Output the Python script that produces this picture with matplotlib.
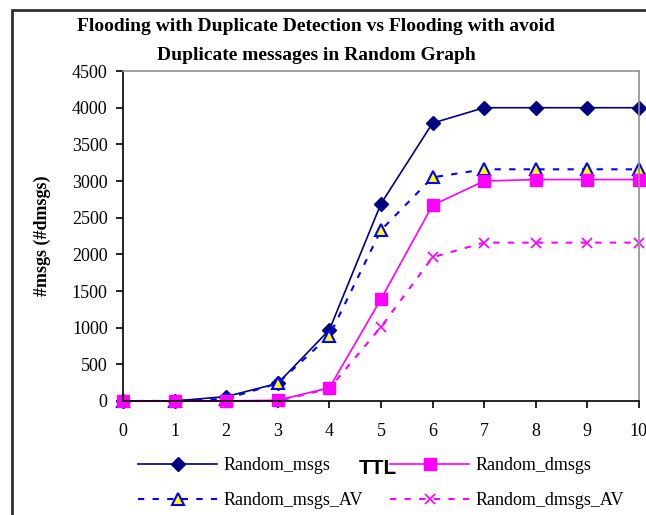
import matplotlib
matplotlib.use("Agg")
import matplotlib.pyplot as plt
from matplotlib.patches import Rectangle

ttl = [0, 1, 2, 3, 4, 5, 6, 7, 8, 9, 10]
random_msgs = [0, 0, 60, 240, 970, 2690, 3790, 4000, 4000, 4000, 4000]
random_dmsgs = [0, 0, 0, 10, 180, 1390, 2670, 3000, 3020, 3020, 3020]
random_msgs_av = [0, 0, 30, 240, 890, 2330, 3050, 3160, 3160, 3160, 3160]
random_dmsgs_av = [0, 0, 0, 0, 170, 1010, 1960, 2160, 2160, 2160, 2160]

y_ticks = [0, 500, 1000, 1500, 2000, 2500, 3000, 3500, 4000, 4500]

title_line1 = "Flooding with Duplicate Detection vs Flooding with avoid"
title_line2 = "Duplicate messages in Random Graph"

plt.rcParams['font.family'] = ['Liberation Serif', 'DejaVu Serif']

fig = plt.figure(figsize=(6.46, 5.15), dpi=100)
ax = fig.add_axes([0.1904, 0.2214, 0.7986, 0.6406])

ax.plot(ttl, random_msgs, color='#000080', lw=1.2, marker='D', ms=7,
        mfc='#000080', mec='#000080', label='Random_msgs')
ax.plot(ttl, random_msgs_av, color='#0000FF', lw=1.5, ls=(0, (3, 4)), marker='^', ms=9,
        mfc='#FFFF00', mec='#0000FF', mew=1.5, label='Random_msgs_AV')
ax.plot(ttl, random_dmsgs, color='#FF00FF', lw=1.2, marker='s', ms=9,
        mfc='#FF00FF', mec='#FF00FF', label='Random_dmsgs')
ax.plot(ttl, random_dmsgs_av, color='#FF00FF', lw=1.5, ls=(0, (3, 4)), marker='x', ms=7,
        mew=1.2, label='Random_dmsgs_AV')

ax.set_xlim(0, 10)
ax.set_ylim(0, 4500)
ax.set_xticks(ttl)
ax.set_yticks(y_ticks)
ax.tick_params(axis='both', direction='out', length=5, width=1.2, labelsize=13, pad=6)
ax.tick_params(axis='x', pad=11)
for s in ['top', 'right']:
    ax.spines[s].set_color('#909090')
    ax.spines[s].set_linewidth(1.2)
for s in ['left', 'bottom']:
    ax.spines[s].set_color('black')
    ax.spines[s].set_linewidth(1.2)
for ln in ax.lines:
    ln.set_clip_on(False)

fig.text(0.489, 0.948, title_line1, ha='center', va='center', fontsize=14,
         fontweight='bold')
fig.text(0.489, 0.892, title_line2, ha='center', va='center', fontsize=14,
         fontweight='bold')
fig.text(0.065, 0.542, '#msgs (#dmsgs)', rotation=90, ha='center', va='center',
         fontsize=13, fontweight='bold')
fig.text(0.585, 0.091, 'TTL', ha='center', va='center', fontsize=15,
         fontweight='bold', family=['Liberation Sans', 'DejaVu Sans'])

fig.legend(loc='center left', bbox_to_anchor=(0.2136, 0.062), ncol=2, frameon=False,
           fontsize=13, handlelength=4.4, columnspacing=1.5, handletextpad=0.33,
           labelspacing=1.0, borderpad=0, borderaxespad=0)

fig.patches.append(Rectangle((0.0186, -0.1), 1.2, 1.0806, transform=fig.transFigure,
                             fill=False, edgecolor='#303030', lw=2.0))

fig.savefig('out.png', dpi=100)
